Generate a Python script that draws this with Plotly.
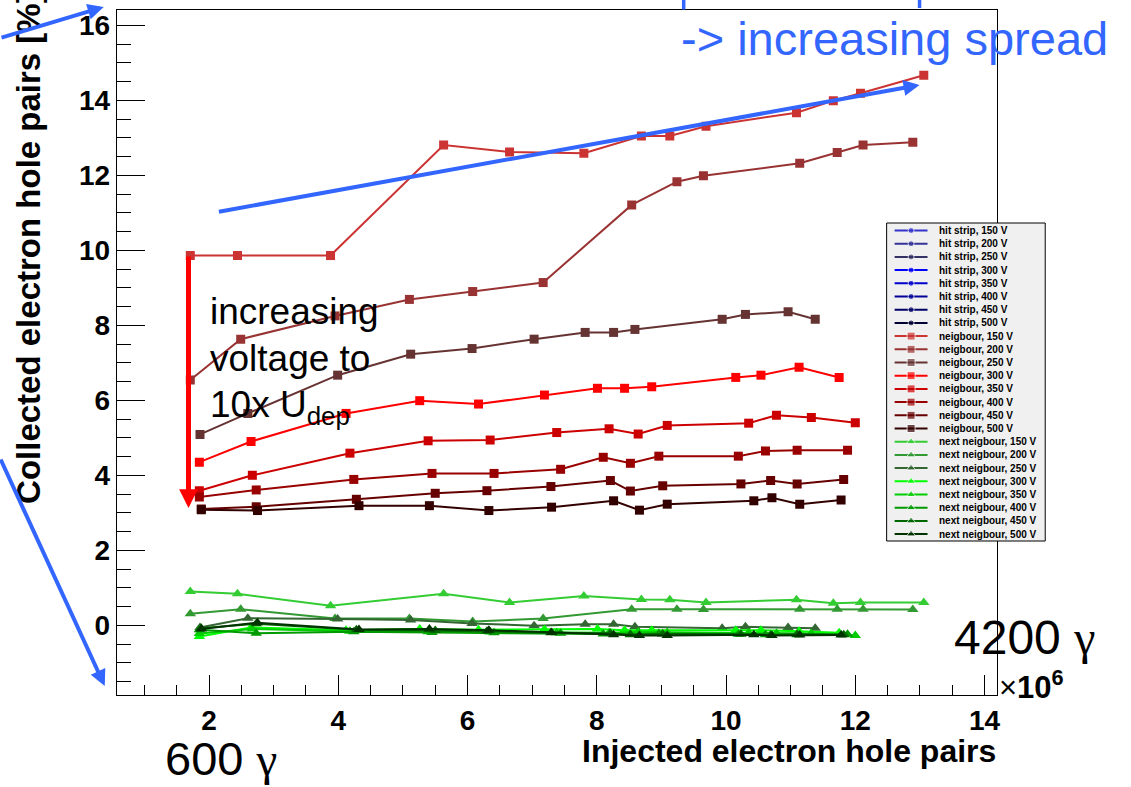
import plotly.graph_objects as go

# ---------------------------------------------------------------- data
voltages = [150, 200, 250, 300, 350, 400, 450, 500]

hit_colors = ["#3333cc", "#333399", "#333366", "#0000ff", "#0000cc", "#000099", "#000066", "#000033"]
nb_colors = ["#cc3333", "#993333", "#663333", "#ff0000", "#cc0000", "#990000", "#660000", "#330000"]
nn_colors = ["#33cc33", "#339933", "#336633", "#00ff00", "#00cc00", "#009900", "#006600", "#003300"]

# injected electron hole pairs (x 10^6) per bias voltage
x150 = [1.71, 2.44, 3.88, 5.63, 6.65, 7.80, 8.69, 9.13, 9.69, 11.09, 11.66, 12.08, 13.06]
x200 = [1.71, 2.49, 3.95, 5.10, 6.08, 7.17, 8.54, 9.24, 9.65, 11.14, 11.72, 12.12, 12.89]
x250 = [1.86, 2.60, 3.99, 5.12, 6.07, 7.03, 7.82, 8.26, 8.59, 9.94, 10.30, 10.96, 11.38]
x300 = [1.85, 2.65, 4.12, 5.26, 6.17, 7.19, 8.01, 8.43, 8.85, 10.15, 10.54, 11.13, 11.75]
x350 = [1.85, 2.67, 4.18, 5.39, 6.35, 7.38, 8.19, 8.64, 9.09, 10.35, 10.78, 11.32, 12.00]
x400 = [1.85, 2.73, 4.24, 5.45, 6.41, 7.44, 8.10, 8.52, 8.96, 10.19, 10.61, 11.10, 11.88]
x450 = [1.88, 2.73, 4.28, 5.50, 6.30, 7.29, 8.21, 8.52, 9.02, 10.23, 10.69, 11.10, 11.82]
x500 = [1.88, 2.75, 4.32, 5.41, 6.33, 7.30, 8.26, 8.66, 9.09, 10.43, 10.71, 11.14, 11.78]

# collected fraction on the neighbouring strip [%]
nb150 = [9.86, 9.86, 9.86, 12.81, 12.62, 12.59, 13.05, 13.05, 13.31, 13.67, 13.99, 14.19, 14.67]
nb200 = [6.54, 7.63, 8.25, 8.69, 8.90, 9.14, 11.21, 11.83, 11.99, 12.32, 12.61, 12.81, 12.88]
nb250 = [5.09, 5.65, 6.67, 7.23, 7.38, 7.63, 7.81, 7.81, 7.89, 8.16, 8.29, 8.36, 8.16]
nb300 = [4.35, 4.90, 5.65, 5.99, 5.90, 6.14, 6.32, 6.32, 6.36, 6.61, 6.67, 6.88, 6.61]
nb350 = [3.59, 4.00, 4.59, 4.92, 4.94, 5.14, 5.24, 5.10, 5.33, 5.39, 5.60, 5.54, 5.40]
nb400 = [3.42, 3.61, 3.89, 4.05, 4.05, 4.16, 4.48, 4.32, 4.51, 4.51, 4.65, 4.67, 4.67]
nb450 = [3.10, 3.16, 3.36, 3.52, 3.59, 3.70, 3.86, 3.58, 3.72, 3.77, 3.86, 3.77, 3.89]
nb500 = [3.08, 3.06, 3.19, 3.19, 3.06, 3.15, 3.32, 3.07, 3.23, 3.32, 3.40, 3.23, 3.34]

# collected fraction on the next-to-neighbouring strip [%]
nn150 = [0.90, 0.84, 0.52, 0.84, 0.61, 0.78, 0.69, 0.68, 0.61, 0.68, 0.59, 0.61, 0.61]
nn200 = [0.31, 0.43, 0.18, 0.18, 0.10, 0.18, 0.43, 0.43, 0.42, 0.43, 0.43, 0.43, 0.42]
nn250 = [-0.06, 0.19, 0.17, 0.14, 0.05, -0.01, 0.03, 0.03, -0.04, -0.08, -0.04, -0.06, -0.08]
nn300 = [-0.30, -0.06, -0.13, -0.10, -0.12, -0.11, -0.10, -0.13, -0.13, -0.13, -0.13, -0.16, -0.20]
nn350 = [-0.22, -0.10, -0.16, -0.17, -0.18, -0.20, -0.20, -0.18, -0.19, -0.20, -0.21, -0.22, -0.27]
nn400 = [-0.12, -0.21, -0.17, -0.19, -0.20, -0.21, -0.23, -0.24, -0.22, -0.24, -0.25, -0.25, -0.24]
nn450 = [-0.08, 0.04, -0.12, -0.14, -0.16, -0.20, -0.21, -0.25, -0.23, -0.24, -0.26, -0.24, -0.25]
nn500 = [-0.10, 0.07, -0.11, -0.10, -0.13, -0.19, -0.25, -0.27, -0.27, -0.25, -0.27, -0.26, -0.26]

x_sets = [x150, x200, x250, x300, x350, x400, x450, x500]
nb_sets = [nb150, nb200, nb250, nb300, nb350, nb400, nb450, nb500]
nn_sets = [nn150, nn200, nn250, nn300, nn350, nn400, nn450, nn500]

x_ticks = [2, 4, 6, 8, 10, 12, 14]
y_ticks = [0, 2, 4, 6, 8, 10, 12, 14, 16]

# ---------------------------------------------------------------- layout geometry (pixels)
W, H = 1131, 787
FX0, FX1, FY0, FY1 = 117, 1000, 10, 695          # frame
XR = [0.571, 14.198]
YR = [-1.859, 16.408]

SANS = "Liberation Sans, Arial, sans-serif"
SERIF = "Liberation Serif, Times New Roman, serif"
BLUE = "#3366ff"

fig = go.Figure()

# ---------------------------------------------------------------- data traces
# (hit-strip values lie far above the displayed range; they only appear in the legend)
for xs, ys, c in zip(x_sets, nb_sets, nb_colors):
    fig.add_trace(go.Scatter(x=xs, y=ys, mode="lines+markers",
                             line=dict(color=c, width=2),
                             marker=dict(symbol="square", size=9, color=c),
                             showlegend=False, xaxis="x", yaxis="y"))

for xs, ys, c in zip(x_sets, nn_sets, nn_colors):
    fig.add_trace(go.Scatter(x=xs, y=ys, mode="lines+markers",
                             line=dict(color=c, width=2),
                             marker=dict(symbol="triangle-up", size=10, color=c),
                             showlegend=False, xaxis="x", yaxis="y"))

# ---------------------------------------------------------------- legend box (pixel overlay)
LX0, LX1, LY0, LY1 = 889, 1048, 223, 541
row0, row_step = 230.5, 13.2
entries = []
for v, c in zip(voltages, hit_colors):
    entries.append((f"hit strip, {v} V", c, "circle", 6))
for v, c in zip(voltages, nb_colors):
    entries.append((f"neigbour, {v} V", c, "square", 8))
for v, c in zip(voltages, nn_colors):
    entries.append((f"next neigbour, {v} V", c, "triangle-up", 8))

shapes = [dict(type="rect", xref="x2", yref="y2", x0=LX0, x1=LX1, y0=LY0, y1=LY1,
               fillcolor="#f0f0f0", line=dict(color="black", width=1), layer="below")]
annotations = []
for i, (label, c, sym, ms) in enumerate(entries):
    ry = row0 + i * row_step
    fig.add_trace(go.Scatter(x=[897, 913.5, 930], y=[ry, ry, ry], mode="lines+markers",
                             line=dict(color=c, width=2),
                             marker=dict(symbol=sym, size=[0, ms, 0], color=c),
                             showlegend=False, xaxis="x2", yaxis="y2", hoverinfo="skip"))
    annotations.append(dict(xref="x2", yref="y2", x=939, y=ry, text=label, showarrow=False,
                            xanchor="left", yanchor="middle",
                            font=dict(family=SANS, size=10, color="black", weight="bold")))

# ---------------------------------------------------------------- axis titles
annotations.append(dict(xref="x2", yref="y2", x=1001, y=751, text="Injected electron hole pairs",
                        showarrow=False, xanchor="right", yanchor="middle",
                        font=dict(family=SANS, size=32, color="black", weight="bold")))
annotations.append(dict(xref="x2", yref="y2", x=28, y=506, text="Collected electron hole pairs [%]",
                        showarrow=False, xanchor="center", yanchor="bottom", textangle=-90,
                        font=dict(family=SANS, size=33, color="black", weight="bold")))
annotations.append(dict(xref="x2", yref="y2", x=1000, y=685,
                        text="×<b>10<sup>6</sup></b>",
                        showarrow=False, xanchor="left", yanchor="middle",
                        font=dict(family=SANS, size=31, color="black")))

# ---------------------------------------------------------------- overlay texts
annotations.append(dict(xref="x2", yref="y2", x=681, y=38, text="-> increasing spread",
                        showarrow=False, xanchor="left", yanchor="middle",
                        font=dict(family=SANS, size=47, color=BLUE)))
for txt, yy in [("increasing", 311), ("voltage to", 358), ("10x U<sub>dep</sub>", 407)]:
    annotations.append(dict(xref="x2", yref="y2", x=209, y=yy, text=txt,
                            showarrow=False, xanchor="left", yanchor="middle",
                            font=dict(family=SANS, size=37, color="black")))
gamma = f'<span style="font-family:{SERIF}">γ</span>'
annotations.append(dict(xref="x2", yref="y2", x=163, y=758, text="600 " + gamma,
                        showarrow=False, xanchor="left", yanchor="middle",
                        font=dict(family=SANS, size=47, color="black")))
annotations.append(dict(xref="x2", yref="y2", x=955, y=637, text="4200 " + gamma,
                        showarrow=False, xanchor="left", yanchor="middle",
                        font=dict(family=SANS, size=48, color="black")))

# ---------------------------------------------------------------- arrows
def arrow(x0, y0, x1, y1, color, width, size):
    return dict(xref="x2", yref="y2", axref="x2", ayref="y2", x=x1, y=y1, ax=x0, ay=y0,
                text="", showarrow=True, arrowhead=2, arrowsize=size, arrowwidth=width,
                arrowcolor=color)

annotations.append(arrow(189, 255, 189, 508, "#ff0000", 5, 0.75))
annotations.append(arrow(218, 212, 922, 85, BLUE, 4, 0.8))
annotations.append(arrow(0, 38, 104, 7, BLUE, 4, 0.8))
annotations.append(arrow(0, 458, 105, 686, BLUE, 4, 0.8))

# clipped descenders of blue text above the visible area
for bx, by in [(685.5, 9.5), (922, 8)]:
    shapes.append(dict(type="line", xref="x2", yref="y2", x0=bx, x1=bx, y0=0, y1=by,
                       line=dict(color=BLUE, width=3.5), layer="above"))

# ---------------------------------------------------------------- axes
tickfont = dict(family=SANS, size=28, color="black", weight="bold")
fig.update_layout(
    width=W, height=H,
    margin=dict(l=0, r=0, t=0, b=0),
    paper_bgcolor="white", plot_bgcolor="rgba(0,0,0,0)",
    showlegend=False,
    xaxis=dict(domain=[FX0 / W, FX1 / W], range=XR, anchor="y",
               tickmode="array", tickvals=x_ticks, ticktext=[str(t) for t in x_ticks],
               ticks="inside", ticklen=20, tickwidth=1, tickcolor="black",
               minor=dict(dtick=0.5, tick0=0, ticks="inside", ticklen=10, tickwidth=1, tickcolor="black"),
               showline=True, mirror=True, linecolor="black", linewidth=1,
               showgrid=False, zeroline=False, tickfont=tickfont),
    yaxis=dict(domain=[1 - FY1 / H, 1 - FY0 / H], range=YR, anchor="x",
               tickmode="array", tickvals=y_ticks, ticktext=[str(t) for t in y_ticks],
               ticks="inside", ticklen=28, tickwidth=1, tickcolor="black",
               minor=dict(dtick=0.5, tick0=0, ticks="inside", ticklen=14, tickwidth=1, tickcolor="black"),
               showline=True, mirror=True, linecolor="black", linewidth=1,
               showgrid=False, zeroline=False, tickfont=tickfont),
    xaxis2=dict(domain=[0, 1], range=[0, W], anchor="y2", visible=False, fixedrange=True),
    yaxis2=dict(domain=[0, 1], range=[H, 0], anchor="x2", visible=False, fixedrange=True),
    shapes=shapes,
    annotations=annotations,
)

fig.write_html("out.html")
